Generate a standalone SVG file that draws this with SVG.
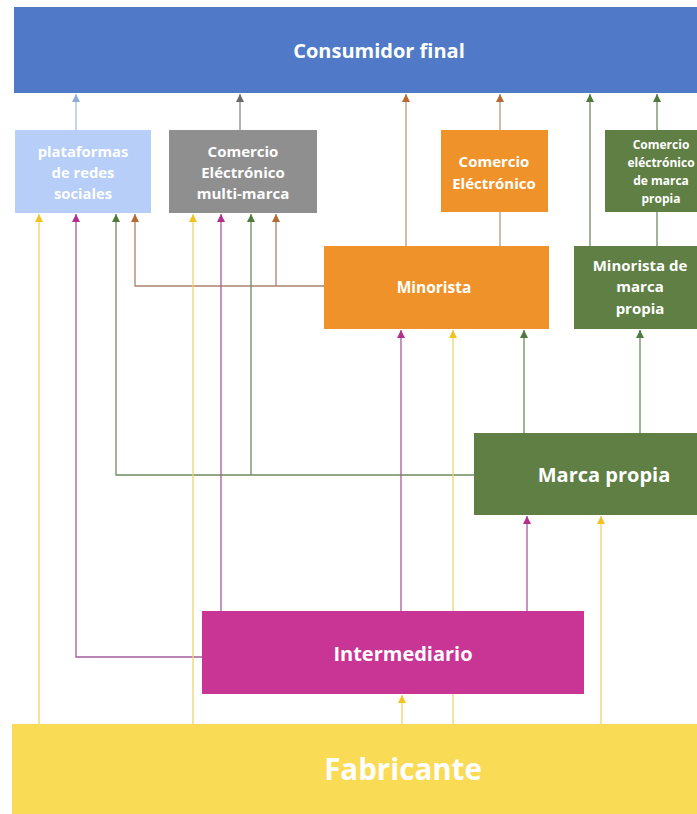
<svg xmlns="http://www.w3.org/2000/svg" width="697" height="814" viewBox="0 0 697 814">
<defs>
<style>
text{font-family:"Open Sans","Noto Sans","Liberation Sans",sans-serif;font-weight:700;fill:#fff;text-anchor:middle}
.ln{fill:none;stroke-width:1.3}
.y{stroke:#EDD46A}.m{stroke:#A45C9A}.g{stroke:#6F8A5E}.b{stroke:#A9826A}.lb{stroke:#A8BEDC}.gr{stroke:#8A8A8A}.o{stroke:#B79A7C}
</style>
<marker id="aY" viewBox="0 0 10 10" refX="10" refY="5" markerWidth="9" markerHeight="8" markerUnits="userSpaceOnUse" orient="auto"><path d="M0,0 L10,5 L0,10Z" fill="#EFC320"/></marker>
<marker id="aM" viewBox="0 0 10 10" refX="10" refY="5" markerWidth="9" markerHeight="8" markerUnits="userSpaceOnUse" orient="auto"><path d="M0,0 L10,5 L0,10Z" fill="#B42E8C"/></marker>
<marker id="aG" viewBox="0 0 10 10" refX="10" refY="5" markerWidth="9" markerHeight="8" markerUnits="userSpaceOnUse" orient="auto"><path d="M0,0 L10,5 L0,10Z" fill="#4E7A3A"/></marker>
<marker id="aB" viewBox="0 0 10 10" refX="10" refY="5" markerWidth="9" markerHeight="8" markerUnits="userSpaceOnUse" orient="auto"><path d="M0,0 L10,5 L0,10Z" fill="#B8692F"/></marker>
<marker id="aL" viewBox="0 0 10 10" refX="10" refY="5" markerWidth="9" markerHeight="8" markerUnits="userSpaceOnUse" orient="auto"><path d="M0,0 L10,5 L0,10Z" fill="#8FAED6"/></marker>
<marker id="aGr" viewBox="0 0 10 10" refX="10" refY="5" markerWidth="9" markerHeight="8" markerUnits="userSpaceOnUse" orient="auto"><path d="M0,0 L10,5 L0,10Z" fill="#6A6A6A"/></marker>
</defs>
<rect width="697" height="814" fill="#FFFFFF"/>
<g id="connectors">
<path class="ln lb" d="M76,130 V94" marker-end="url(#aL)"/>
<path class="ln gr" d="M240,130 V94" marker-end="url(#aGr)"/>
<path class="ln o" d="M406,246 V94" marker-end="url(#aB)"/>
<path class="ln o" d="M500,130 V94" marker-end="url(#aB)"/>
<path class="ln o" d="M500,246 V212"/>
<path class="ln g" d="M590,246 V94" marker-end="url(#aG)"/>
<path class="ln g" d="M657,130 V94" marker-end="url(#aG)"/>
<path class="ln g" d="M657,246 V212"/>
<path class="ln b" d="M324,286 H135 V214" marker-end="url(#aB)"/>
<path class="ln b" d="M276,286 V214" marker-end="url(#aB)"/>
<path class="ln g" d="M474,475 H116 V214" marker-end="url(#aG)"/>
<path class="ln g" d="M251,475 V214" marker-end="url(#aG)"/>
<path class="ln g" d="M524,433 V330" marker-end="url(#aG)"/>
<path class="ln g" d="M640,433 V330" marker-end="url(#aG)"/>
<path class="ln m" d="M202,657 H76 V214" marker-end="url(#aM)"/>
<path class="ln m" d="M221,611 V214" marker-end="url(#aM)"/>
<path class="ln m" d="M401,611 V330" marker-end="url(#aM)"/>
<path class="ln m" d="M527,611 V516" marker-end="url(#aM)"/>
<path class="ln y" d="M39,724 V214" marker-end="url(#aY)"/>
<path class="ln y" d="M193,724 V214" marker-end="url(#aY)"/>
<path class="ln y" d="M402,724 V695" marker-end="url(#aY)"/>
<path class="ln y" d="M453,724 V330" marker-end="url(#aY)"/>
<path class="ln y" d="M601,724 V516" marker-end="url(#aY)"/>
</g>
<g id="consumidor">
<rect x="14" y="7" width="683" height="86" fill="#507AC8"/>
<text x="379" y="58" font-size="20">Consumidor final</text>
</g>
<g id="plataformas">
<rect x="15" y="130" width="136" height="83" fill="#B6CEF8"/>
<text font-size="14.8"><tspan x="83" y="157">plataformas</tspan><tspan x="83" y="178">de redes</tspan><tspan x="83" y="199">sociales</tspan></text>
</g>
<g id="multimarca">
<rect x="169" y="130" width="148" height="83" fill="#8F8F8F"/>
<text font-size="15"><tspan x="243" y="157">Comercio</tspan><tspan x="243" y="178">Eléctrónico</tspan><tspan x="243" y="199">multi-marca</tspan></text>
</g>
<g id="comercio-electronico">
<rect x="441" y="130" width="107" height="82" fill="#F0922A"/>
<text font-size="15"><tspan x="494" y="167">Comercio</tspan><tspan x="494" y="189">Eléctrónico</tspan></text>
</g>
<g id="comercio-marca-propia">
<rect x="605" y="130" width="92" height="82" fill="#5F7F45"/>
<text font-size="12"><tspan x="661" y="149">Comercio</tspan><tspan x="661" y="167">eléctrónico</tspan><tspan x="661" y="185">de marca</tspan><tspan x="661" y="203">propia</tspan></text>
</g>
<g id="minorista">
<rect x="324" y="246" width="225" height="83" fill="#F0922A"/>
<text x="434" y="293" font-size="15.5">Minorista</text>
</g>
<g id="minorista-marca-propia">
<rect x="574" y="246" width="123" height="83" fill="#5F7F45"/>
<text font-size="15"><tspan x="640" y="271">Minorista de</tspan><tspan x="640" y="292">marca</tspan><tspan x="640" y="314">propia</tspan></text>
</g>
<g id="marca-propia">
<rect x="474" y="433" width="223" height="82" fill="#5F7F45"/>
<text x="604" y="482" font-size="20">Marca propia</text>
</g>
<g id="intermediario">
<rect x="202" y="611" width="382" height="83" fill="#C93594"/>
<text x="403" y="661" font-size="20">Intermediario</text>
</g>
<g id="fabricante">
<rect x="12" y="724" width="685" height="90" fill="#FADB55"/>
<text x="403" y="780" font-size="29.5" font-weight="600">Fabricante</text>
</g>
</svg>
